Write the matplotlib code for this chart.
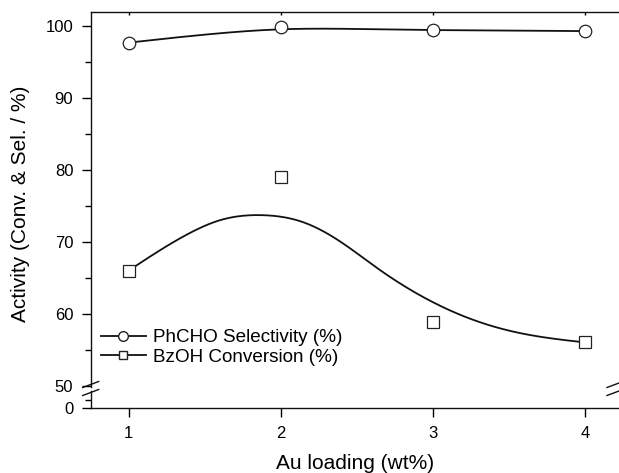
import numpy as np
import matplotlib
matplotlib.use('Agg')
import matplotlib.pyplot as plt

plt.rcParams['font.family'] = ['Liberation Sans', 'DejaVu Sans']

# ── Data ──────────────────────────────────────────────
au_loading = [1, 2, 3, 4]
phcho_sel = [97.7, 99.9, 99.4, 99.3]
bzoh_conv = [66.0, 79.0, 58.9, 56.0]

# smoothed guide lines
sel_curve_x = [1, 1.47, 2.0, 2.5, 3.0, 3.5, 4.0]
sel_curve_y = [97.7, 98.75, 99.55, 99.6, 99.45, 99.38, 99.3]
conv_curve_x = [1, 1.4, 1.6, 1.88, 2.15, 2.4, 2.65, 2.92, 3.22, 3.55, 4.0]
conv_curve_y = [66.0, 71.2, 73.0, 73.7, 72.7, 69.9, 66.1, 62.5, 59.5, 57.4, 56.0]

upper_ticks = [50, 60, 70, 80, 90, 100]
upper_minor = [55, 65, 75, 85, 95]


def natural_spline(xk, yk, xs):
    # plain natural cubic spline, no scipy needed
    xk = np.asarray(xk, float)
    yk = np.asarray(yk, float)
    n = len(xk)
    h = np.diff(xk)
    A = np.zeros((n, n))
    r = np.zeros(n)
    A[0, 0] = A[-1, -1] = 1
    for i in range(1, n - 1):
        A[i, i - 1] = h[i - 1]
        A[i, i] = 2 * (h[i - 1] + h[i])
        A[i, i + 1] = h[i]
        r[i] = 6 * ((yk[i + 1] - yk[i]) / h[i] - (yk[i] - yk[i - 1]) / h[i - 1])
    M = np.linalg.solve(A, r)
    idx = np.clip(np.searchsorted(xk, xs) - 1, 0, n - 2)
    x0, x1 = xk[idx], xk[idx + 1]
    hh = x1 - x0
    t0, t1 = x1 - xs, xs - x0
    return (M[idx] * t0**3 / (6 * hh) + M[idx + 1] * t1**3 / (6 * hh)
            + (yk[idx] / hh - M[idx] * hh / 6) * t0
            + (yk[idx + 1] / hh - M[idx + 1] * hh / 6) * t1)


W, H = 619, 473
fig = plt.figure(figsize=(W / 100, H / 100), dpi=100)

left = 90.7 / W
right_px = 623
width = (right_px - 90.7) / W
top_px, brk_hi, brk_lo, bot_px = 12, 387, 391, 408.3

ax = fig.add_axes([left, 1 - brk_hi / H, width, (brk_hi - top_px) / H])
ax0 = fig.add_axes([left, 1 - bot_px / H, width, (bot_px - brk_lo) / H],
                   sharex=ax)

xs = np.linspace(1, 4, 300)
lc = '#111111'
ax.plot(xs, natural_spline(sel_curve_x, sel_curve_y, xs), color=lc, lw=1.3)
ax.plot(xs, natural_spline(conv_curve_x, conv_curve_y, xs), color=lc, lw=1.3)
ax.plot(au_loading, phcho_sel, 'o', ms=9, mfc='white', mec='#222222',
        mew=0.9, zorder=3)
ax.plot(au_loading, bzoh_conv, 's', ms=8, mfc='white', mec='#222222',
        mew=0.9, zorder=3)

# legend proxies
h1, = ax.plot([], [], '-o', color=lc, lw=1.3, ms=7, mfc='white', mec='#222222')
h2, = ax.plot([], [], '-s', color=lc, lw=1.3, ms=6, mfc='white', mec='#222222')
ax.legend([h1, h2], ['PhCHO Selectivity (%)', 'BzOH Conversion (%)'],
          loc='center left', bbox_to_anchor=(0.019, 0.105), frameon=False,
          fontsize=13.6, borderpad=0, borderaxespad=0, handlelength=2.4,
          handletextpad=0.35, labelspacing=0.12)

ax.set_xlim(0.75, 4.25)
ax.set_ylim(49.8, 101.96)
ax.set_yticks(upper_ticks)
ax.set_yticks(upper_minor, minor=True)
ax0.set_ylim(0, 4)
ax0.set_yticks([0])
ax0.set_yticks([2], minor=True)
ax0.set_xticks(au_loading)

for a in (ax, ax0):
    for s in a.spines.values():
        s.set_linewidth(1.0)
        s.set_color('#111111')
    a.tick_params(which='major', direction='out', length=6.5, width=1.0,
                  labelsize=12, pad=6)
    a.tick_params(which='minor', direction='out', length=4, width=1.0)
ax.spines['bottom'].set_visible(False)
ax0.spines['top'].set_visible(False)
ax.tick_params(axis='x', which='both', bottom=False, labelbottom=False,
               top=True, direction='in', length=2)

# break marks
kw = dict(transform=fig.transFigure, color='#111111', lw=1.0, clip_on=False)
for xc in (90.7, 615):
    for yc in (384.5, 392.5):
        fig.add_artist(plt.Line2D([(xc - 8) / W, (xc + 8) / W],
                                  [1 - (yc + 3) / H, 1 - (yc - 3) / H], **kw))

fig.text(21 / W, 1 - 204 / H, 'Activity (Conv. & Sel. / %)', rotation=90,
         ha='center', va='center', fontsize=15)
fig.text(355 / W, 1 - 463 / H, 'Au loading (wt%)', ha='center',
         va='center', fontsize=15)

fig.savefig('out.png', dpi=100)
